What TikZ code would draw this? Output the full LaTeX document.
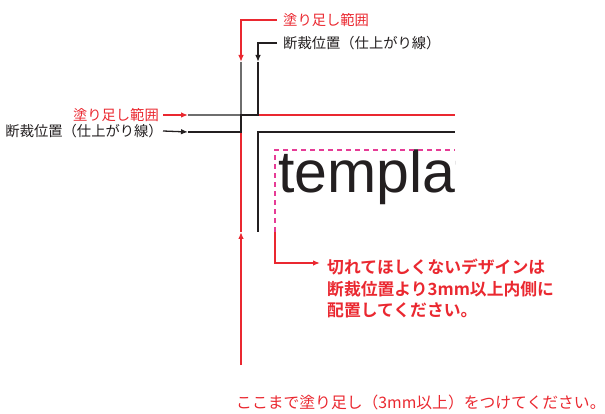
\documentclass[tikz,border=0pt]{standalone}
\usepackage{fontspec}
\setmainfont{Noto Sans CJK JP}[BoldFont={Noto Sans CJK JP Bold}]
\newfontfamily\latinsans{Liberation Sans}
\usetikzlibrary{arrows.meta}
\definecolor{bred}{RGB}{234,40,48}
\definecolor{bgray}{RGB}{110,110,110}
\definecolor{bblack}{RGB}{35,31,32}
\definecolor{bpink}{RGB}{230,60,150}
\tikzset{
  ln/.style={line width=1.3pt},
  tip/.style={-{Latex[length=7pt,width=5.5pt]}},
  lbl/.style={inner sep=0pt, font=\fontsize{14.3}{16}\selectfont},
}
\begin{document}
\begin{tikzpicture}[x=1pt,y=-1pt]
\useasboundingbox (0,0) rectangle (605,414);
% key corners
\coordinate (bl) at (241,115);
\coordinate (tr) at (258,132);
\coordinate (sf) at (275,150);
\coordinate (blE) at (455,115);
\coordinate (trE) at (455,132);
\coordinate (sfE) at (455,150);
\coordinate (blB) at (241,232);
\coordinate (trB) at (258,232);
\coordinate (sfB) at (275,232);

% labels
\node[lbl, text=bred, anchor=west] (tbl) at (283,20) {塗り足し範囲};
\node[lbl, text=bblack, anchor=west] (ttr) at (283,43) {断裁位置（仕上がり線）};
\node[lbl, text=bred, anchor=east] (lbl) at (159,115) {塗り足し範囲};
\node[lbl, text=bblack, anchor=east] (ltr) at (163,131) {断裁位置（仕上がり線）};

% template text
\begin{scope}
\clip (270,140) rectangle (455,215);
\node[anchor=base west, inner sep=0pt, text=bblack, font=\latinsans\fontsize{59}{60}\selectfont] (tpl) at (278,193) {template};
\end{scope}

% bleed line (red)
\draw[ln, bred] (blB) -- (bl) -- (blE);
% trim line (black)
\draw[ln, bblack] (trB) -- (tr) -- (trE);
% safe area (dashed pink)
\draw[ln, bpink, dash pattern=on 5pt off 4pt] (sfB) -- (sf) -- (sfE);

% extension lines
\coordinate (a1) at (241,62);
\coordinate (a2) at (258,62);
\coordinate (a3) at (188,115);
\coordinate (a4) at (188,132);
\draw[ln, bgray] (a1) -- (bl);
\draw[ln, bgray] (a3) -- (bl);
\draw[ln, bblack] (a2) -- (258,115) -- (bl) -- (241,132) -- (a4);

% arrows from labels
\draw[ln, bred, tip] ([xshift=-6pt]tbl.west) -- (241,20) -- (a1);
\draw[ln, bblack, tip] ([xshift=-6pt]ttr.west) -- (258,43) -- (a2);
\draw[ln, bred, tip] ([xshift=4pt]lbl.east) -- (a3);
\draw[ln, bblack, tip] ([xshift=0pt]ltr.east) -- (a4);

% bottom arrow
\coordinate (bb) at (241,365);
\draw[ln, bred, tip] (bb) -- (241,232);
\node[lbl, text=bred, anchor=west, font=\fontsize{15.8}{18}\selectfont] (btxt) at (236,402.5) {ここまで塗り足し（3mm以上）をつけてください。};

% safe-area note
\node[inner sep=0pt, anchor=north west, text=bred, align=left, font=\bfseries\fontsize{16.8}{21.5}\selectfont] (note) at (327,259) {切れてほしくないデザインは\\断裁位置より3mm以上内側に\\配置してください。};
\draw[ln, bred, tip] (sfB) -- (275,263) -- (320,263);
\end{tikzpicture}
\end{document}
